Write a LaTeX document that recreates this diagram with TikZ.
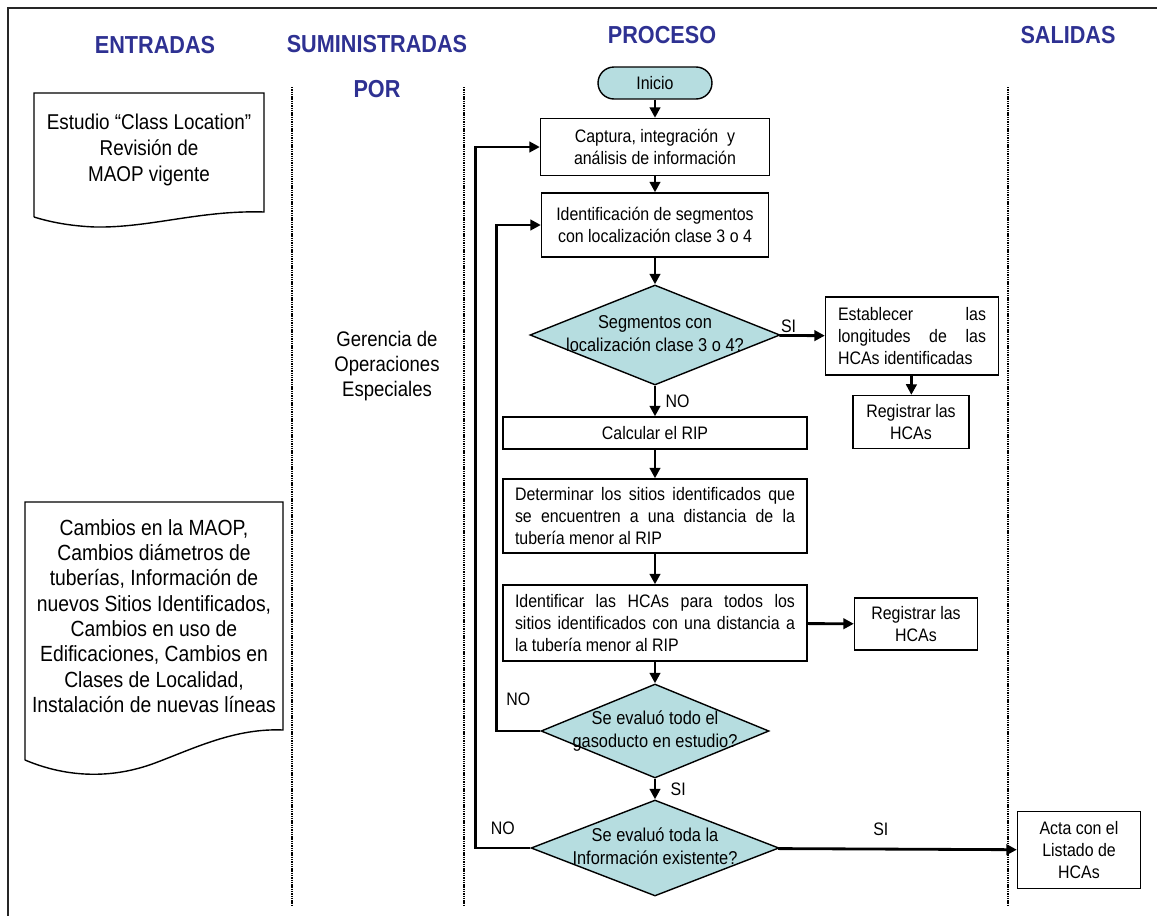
\documentclass[tikz,border=0pt]{standalone}
\usepackage{fontspec}
\setmainfont{Liberation Sans}[FakeStretch=0.88]
\usetikzlibrary{shapes.geometric,arrows.meta}
\definecolor{hdrblue}{RGB}{46,49,146}
\definecolor{aqua}{RGB}{182,221,224}
% two lines of text that may run over the border of a decision
\newcommand{\dtext}[2]{\makebox[0pt]{\smash{\raisebox{-3pt}{\begin{tabular}{@{}c@{}}#1\\#2\end{tabular}}}}}

\begin{document}
\begin{tikzpicture}[x=0.02cm, y=-0.02cm,
  hdr/.style={font=\fontsize{14}{17}\selectfont\bfseries, text=hdrblue},
  box/.style={rectangle, draw, line width=0.8pt, font=\fontsize{10.3}{12.5}\selectfont, align=center},
  jbox/.style={box, align=justify},
  term/.style={box, rounded corners=0.32cm, fill=aqua},
  dec/.style={diamond, draw, line width=0.8pt, fill=aqua, inner sep=0pt, font=\fontsize{10.6}{13}\selectfont},
  lbl/.style={font=\fontsize{10.3}{12}\selectfont, inner sep=1pt},
  flow/.style={line width=1.6pt, -{Triangle[length=6pt,width=6pt]}},
  lane/.style={line width=1.3pt, dash pattern=on 0.8pt off 0.5pt}]
\useasboundingbox (0,0) rectangle (1157,916);

% frame and lanes
\draw[line width=1.3pt, black!85] (1157,8) -- (8,8) -- (8,916);
\draw[lane] (292,87) -- (292,905);
\draw[lane] (464,87) -- (464,905);
\draw[lane] (1008,87) -- (1008,905);

\node[hdr] (entr) at (155,45) {ENTRADAS};
\node[hdr] (sumi) at (377,44) {SUMINISTRADAS};
\node[hdr] (por) at (377,89) {POR};
\node[hdr] (proc) at (662,35) {PROCESO};
\node[hdr] (sali) at (1068,35) {SALIDAS};

% inputs
\draw[line width=0.8pt] (34,217) -- (34,93) -- (264,93) -- (264,212) .. controls (200,210) and (150,228) .. (95,227) .. controls (70,226) and (50,222) .. (34,217);
\node[align=center, font=\fontsize{12.2}{15}\selectfont] (docA) at (149,150) {Estudio “Class Location”\\Revisión de\\MAOP vigente};
\draw[line width=0.8pt] (25,760) -- (25,502) -- (283,502) -- (283,730) .. controls (235,728) and (195,748) .. (155,763) .. controls (115,778) and (70,779) .. (25,760);
\node[align=center, font=\fontsize{12.5}{14.4}\selectfont] (docB) at (154,616) {Cambios en la MAOP,\\Cambios diámetros de\\tuberías, Información de\\nuevos Sitios Identificados,\\Cambios en uso de\\Edificaciones, Cambios en\\Clases de Localidad,\\Instalación de nuevas líneas};

\node[align=center, font=\fontsize{12}{14.2}\selectfont] (ger) at (387,366) {Gerencia de\\Operaciones\\Especiales};

% process
\node[term, minimum width=2.28cm, minimum height=0.64cm] (inicio) at (655,83) {Inicio};
\node[box, minimum width=4.58cm, minimum height=1.14cm] (captura) at (655,147) {Captura, integración~ y\\análisis de información};
\node[box, minimum width=4.54cm, minimum height=1.28cm] (ident) at (655,225) {Identificación de segmentos\\con localización clase 3 o 4};
\node[dec, minimum width=5cm, minimum height=2cm] (d1) at (655,335) {\dtext{Segmentos con}{localización clase 3 o 4?}};
\node[jbox, text width=2.96cm, inner xsep=0.25cm, minimum height=1.56cm] (estab) at (912,336) {Establecer las\linebreak longitudes de las\linebreak HCAs identificadas};
\node[box, minimum width=2.32cm, minimum height=1.06cm] (reg1) at (911,422) {Registrar las\\HCAs};
\node[box, minimum width=6.08cm, minimum height=0.64cm] (calc) at (655,433) {Calcular el RIP};
\node[jbox, text width=5.6cm, inner xsep=0.24cm, minimum height=1.48cm] (determ) at (655,516) {Determinar los sitios identificados que\linebreak se encuentren a una distancia de la\linebreak tubería menor al RIP};
\node[jbox, text width=5.6cm, inner xsep=0.24cm, minimum height=1.52cm] (identif) at (655,623) {Identificar las HCAs para todos los\linebreak sitios identificados con una distancia a\linebreak la tubería menor al RIP};
\node[box, minimum width=2.46cm, minimum height=1.04cm] (reg2) at (916,624) {Registrar las\\HCAs};
\node[dec, minimum width=4.56cm, minimum height=1.88cm] (d2) at (655,731) {\dtext{Se evaluó todo el}{gasoducto en estudio?}};
\node[dec, minimum width=4.96cm, minimum height=1.92cm] (d3) at (655,848) {\dtext{Se evaluó toda la}{Información existente?}};

% output
\node[box, minimum width=2.46cm, minimum height=1.54cm] (acta) at (1079,850) {Acta con el\\Listado de\\HCAs};

\path[flow] (inicio) edge (captura);
\path[flow] (captura) edge (ident);
\path[flow] (ident) edge (d1);
\path[flow] (d1) edge node[lbl, above, pos=0.2] (si1) {SI} (estab);
\path[flow] (estab) edge (reg1);
\path[flow] (d1) edge node[lbl, right=0.15cm] (no1) {NO} (calc);
\path[flow] (calc) edge (determ);
\path[flow] (determ) edge (identif);
\path[flow] (identif) edge (reg2);
\path[flow] (identif) edge (d2);
\path[flow] (d2) edge node[lbl, right=0.25cm] (si2) {SI} (d3);
\path[flow] (d3) edge node[lbl, above=0.2cm, pos=0.43] (si3) {SI} (acta);
\draw[flow] (d2.west) -- node[lbl, above=0.45cm] (no2) {NO} ++(-44,0) |- (ident.west);
\draw[flow] (d3.west) -- node[lbl, above=0.2cm] (no3) {NO} ++(-55,0) |- (captura.west);
\end{tikzpicture}
\end{document}
